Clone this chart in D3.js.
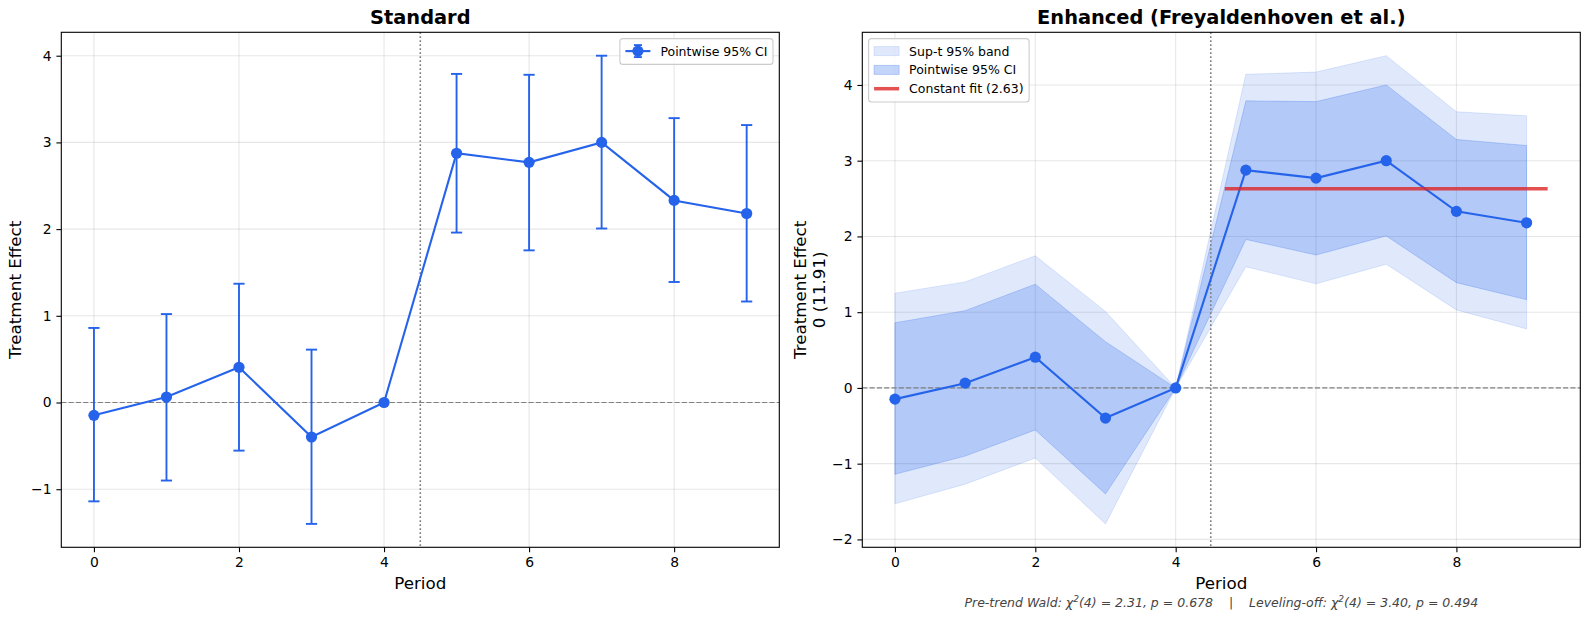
<!DOCTYPE html>
<html><head><meta charset="utf-8">
<script src="https://cdn.jsdelivr.net/npm/d3@7"></script>
<style>
body { margin: 0; background: #fff; }
svg { font-family: "DejaVu Sans", sans-serif; }
</style></head><body>
<svg id="chart" width="1589" height="624"></svg>
<script>
// values
var periods   = [0, 1, 2, 3, 4, 5, 6, 7, 8, 9];
var estimates = [-0.148, 0.063, 0.406, -0.398, 0, 2.875, 2.77, 3.0, 2.331, 2.18];
var ciLower   = [-1.14, -0.90, -0.555, -1.40, 0, 1.96, 1.755, 2.007, 1.39, 1.165];
var ciUpper   = [0.86, 1.02, 1.37, 0.61, 0, 3.79, 3.78, 4.0, 3.28, 3.20];
var supLower  = [-1.53, -1.27, -0.925, -1.795, 0, 1.60, 1.374, 1.634, 1.03, 0.779];
var supUpper  = [1.25, 1.40, 1.745, 1.008, 0, 4.14, 4.17, 4.386, 3.646, 3.593];
var constFit  = 2.63;
var fitRange  = [4.7, 9.3];
var treatStart = 4.5;
var xTicks = [0, 2, 4, 6, 8];
var yTicksLeft  = [-1, 0, 1, 2, 3, 4];
var yTicksRight = [-2, -1, 0, 1, 2, 3, 4];

var blue = "#2563eb", red = "#dc2626";
var svg = d3.select("#chart");

function pad(lo, hi) { var r = hi - lo; return [lo - 0.05 * r, hi + 0.05 * r]; }

var boxL = {x0: 61.3, x1: 779.3, y0: 32.3, y1: 547.3};
var boxR = {x0: 862.3, x1: 1580.3, y0: 32.3, y1: 547.3};

var xL = d3.scaleLinear().domain(pad(d3.min(periods), d3.max(periods))).range([boxL.x0, boxL.x1]);
var yL = d3.scaleLinear().domain(pad(d3.min(ciLower), d3.max(ciUpper))).range([boxL.y1, boxL.y0]);
var xR = d3.scaleLinear().domain(pad(Math.min(d3.min(periods), fitRange[0]), Math.max(d3.max(periods), fitRange[1]))).range([boxR.x0, boxR.x1]);
var yR = d3.scaleLinear().domain(pad(d3.min(supLower), d3.max(supUpper))).range([boxR.y1, boxR.y0]);

function panel(box, x, y, yTicks, title) {
    var g = svg.append("g");
    // grid
    g.selectAll(".gx").data(xTicks).enter().append("line")
        .attr("x1", d => x(d)).attr("x2", d => x(d)).attr("y1", box.y0).attr("y2", box.y1)
        .attr("stroke", "#b0b0b0").attr("stroke-opacity", 0.3).attr("stroke-width", 1.1);
    g.selectAll(".gy").data(yTicks).enter().append("line")
        .attr("y1", d => y(d)).attr("y2", d => y(d)).attr("x1", box.x0).attr("x2", box.x1)
        .attr("stroke", "#b0b0b0").attr("stroke-opacity", 0.3).attr("stroke-width", 1.1);

    var xa = g.append("g").attr("transform", "translate(0," + box.y1 + ")")
        .call(d3.axisBottom(x).tickValues(xTicks).tickSize(4.9).tickPadding(4.9).tickFormat(d3.format("d")));
    var ya = g.append("g").attr("transform", "translate(" + box.x0 + ",0)")
        .call(d3.axisLeft(y).tickValues(yTicks).tickSize(4.9).tickPadding(4.9).tickFormat(d3.format("d")));
    [xa, ya].forEach(a => {
        a.select(".domain").remove();
        a.selectAll("line").attr("stroke", "#000").attr("stroke-width", 1.1);
        a.selectAll("text").attr("font-size", 13.9).attr("fill", "#000").attr("font-family", "DejaVu Sans");
    });

    g.append("text").attr("x", (box.x0 + box.x1) / 2).attr("y", 24)
        .attr("text-anchor", "middle").attr("font-size", 19.4).attr("font-weight", "bold").text(title);
    g.append("text").attr("x", (box.x0 + box.x1) / 2).attr("y", 589)
        .attr("text-anchor", "middle").attr("font-size", 16.7).text("Period");
    return g;
}

function refLines(g, box, x, y) {
    g.append("line").attr("x1", box.x0).attr("x2", box.x1).attr("y1", y(0)).attr("y2", y(0))
        .attr("stroke", "#808080").attr("stroke-width", 1.2).attr("stroke-dasharray", "5.1,2.2");
    g.append("line").attr("x1", x(treatStart)).attr("x2", x(treatStart)).attr("y1", box.y0).attr("y2", box.y1)
        .attr("stroke", "#808080").attr("stroke-width", 1.6).attr("stroke-dasharray", "1.6,2.4");
}

function frame(box) {
    svg.append("rect").attr("x", box.x0).attr("y", box.y0)
        .attr("width", box.x1 - box.x0).attr("height", box.y1 - box.y0)
        .attr("fill", "none").attr("stroke", "#000").attr("stroke-width", 1.1);
}

var rows = periods.map((p, i) => ({p: p, est: estimates[i], lo: ciLower[i], hi: ciUpper[i], slo: supLower[i], shi: supUpper[i]}));

// ---------- left panel ----------
var gL = panel(boxL, xL, yL, yTicksLeft, "Standard");
refLines(gL, boxL, xL, yL);
var eb = gL.selectAll(".eb").data(rows.filter(d => d.hi - d.lo > 0)).enter().append("g");
eb.append("line").attr("x1", d => xL(d.p)).attr("x2", d => xL(d.p)).attr("y1", d => yL(d.lo)).attr("y2", d => yL(d.hi));
eb.append("line").attr("x1", d => xL(d.p) - 5.6).attr("x2", d => xL(d.p) + 5.6).attr("y1", d => yL(d.lo)).attr("y2", d => yL(d.lo));
eb.append("line").attr("x1", d => xL(d.p) - 5.6).attr("x2", d => xL(d.p) + 5.6).attr("y1", d => yL(d.hi)).attr("y2", d => yL(d.hi));
eb.selectAll("line").attr("stroke", blue).attr("stroke-width", 1.9);
gL.append("path").datum(rows).attr("fill", "none").attr("stroke", blue).attr("stroke-width", 2.1)
    .attr("d", d3.line().x(d => xL(d.p)).y(d => yL(d.est)));
gL.selectAll(".dot").data(rows).enter().append("circle")
    .attr("cx", d => xL(d.p)).attr("cy", d => yL(d.est)).attr("r", 5.6).attr("fill", blue);
gL.append("text").attr("transform", "translate(21," + (boxL.y0 + boxL.y1) / 2 + ") rotate(-90)")
    .attr("text-anchor", "middle").attr("font-size", 16.7).text("Treatment Effect");
frame(boxL);

// ---------- right panel ----------
var gR = panel(boxR, xR, yR, yTicksRight, "Enhanced (Freyaldenhoven et al.)");
gR.append("path").datum(rows).attr("fill", blue).attr("fill-opacity", 0.14)
    .attr("stroke", blue).attr("stroke-opacity", 0.14).attr("stroke-width", 1)
    .attr("d", d3.area().x(d => xR(d.p)).y0(d => yR(d.slo)).y1(d => yR(d.shi)));
gR.append("path").datum(rows).attr("fill", blue).attr("fill-opacity", 0.24)
    .attr("stroke", blue).attr("stroke-opacity", 0.24).attr("stroke-width", 1)
    .attr("d", d3.area().x(d => xR(d.p)).y0(d => yR(d.lo)).y1(d => yR(d.hi)));
refLines(gR, boxR, xR, yR);
gR.append("path").datum(rows).attr("fill", "none").attr("stroke", blue).attr("stroke-width", 2.1)
    .attr("d", d3.line().x(d => xR(d.p)).y(d => yR(d.est)));
gR.selectAll(".dot").data(rows).enter().append("circle")
    .attr("cx", d => xR(d.p)).attr("cy", d => yR(d.est)).attr("r", 5.6).attr("fill", blue);
gR.append("line").attr("x1", xR(fitRange[0])).attr("x2", xR(fitRange[1]))
    .attr("y1", yR(constFit)).attr("y2", yR(constFit))
    .attr("stroke", red).attr("stroke-opacity", 0.8).attr("stroke-width", 3.5);
var yl = gR.append("text").attr("transform", "translate(806," + (boxR.y0 + boxR.y1) / 2 + ") rotate(-90)")
    .attr("text-anchor", "middle").attr("font-size", 16.7);
yl.append("tspan").attr("x", 0).attr("dy", 0).text("Treatment Effect");
yl.append("tspan").attr("x", 0).attr("dy", 18.5).text("0 (11.91)");

var note = gR.append("text").attr("x", (boxR.x0 + boxR.x1) / 2).attr("y", 607)
    .attr("text-anchor", "middle").attr("font-size", 12.5).attr("font-style", "italic")
    .attr("fill", "#444").style("white-space", "pre");
note.append("tspan").text("Pre-trend Wald: χ");
note.append("tspan").attr("dy", -5).attr("font-size", 9).text("2");
note.append("tspan").attr("dy", 5).text("(4) = 2.31, p = 0.678    |    Leveling-off: χ");
note.append("tspan").attr("dy", -5).attr("font-size", 9).text("2");
note.append("tspan").attr("dy", 5).text("(4) = 3.40, p = 0.494");
frame(boxR);

// ---------- legends ----------
function legend(items, anchorX, top, alignRight) {
    var fs = 12.5, rowH = 18.8, hl = 25, tp = 10, bp = 5.5;
    var g = svg.append("g");
    var bg = g.append("rect");
    var texts = items.map((it, i) => g.append("text").attr("font-size", fs).attr("y", top + bp + 7 + i * rowH + 4.5).text(it.label));
    var tw = d3.max(texts, t => t.node().getComputedTextLength());
    var w = bp + hl + tp + tw + bp, h = bp * 2 + items.length * rowH - 4;
    var left = alignRight ? anchorX - w : anchorX;
    bg.attr("x", left).attr("y", top).attr("width", w).attr("height", h).attr("rx", 3)
        .attr("fill", "#fff").attr("fill-opacity", 0.8).attr("stroke", "#ccc").attr("stroke-width", 1.1);
    items.forEach((it, i) => {
        var cy = top + bp + 7 + i * rowH, hx = left + bp;
        texts[i].attr("x", hx + hl + tp);
        if (it.type === "errbar") {
            g.append("line").attr("x1", hx).attr("x2", hx + hl).attr("y1", cy).attr("y2", cy).attr("stroke", blue).attr("stroke-width", 2.1);
            g.append("line").attr("x1", hx + hl / 2).attr("x2", hx + hl / 2).attr("y1", cy - 6).attr("y2", cy + 6).attr("stroke", blue).attr("stroke-width", 1.9);
            [cy - 6, cy + 6].forEach(yy => g.append("line").attr("x1", hx + hl / 2 - 4).attr("x2", hx + hl / 2 + 4).attr("y1", yy).attr("y2", yy).attr("stroke", blue).attr("stroke-width", 1.9));
            g.append("circle").attr("cx", hx + hl / 2).attr("cy", cy).attr("r", 5.6).attr("fill", blue);
        } else if (it.type === "patch") {
            g.append("rect").attr("x", hx).attr("y", cy - 4.5).attr("width", hl).attr("height", 9)
                .attr("fill", blue).attr("fill-opacity", it.alpha).attr("stroke", blue).attr("stroke-opacity", it.alpha);
        } else {
            g.append("line").attr("x1", hx).attr("x2", hx + hl).attr("y1", cy).attr("y2", cy)
                .attr("stroke", red).attr("stroke-opacity", 0.8).attr("stroke-width", 3.5);
        }
    });
}
legend([{label: "Pointwise 95% CI", type: "errbar"}], boxL.x1 - 6.3, boxL.y0 + 6.3, true);
legend([
    {label: "Sup-t 95% band", type: "patch", alpha: 0.14},
    {label: "Pointwise 95% CI", type: "patch", alpha: 0.27},
    {label: "Constant fit (2.63)", type: "line"}
], boxR.x0 + 6.3, boxR.y0 + 6.3, false);
</script>
</body></html>
